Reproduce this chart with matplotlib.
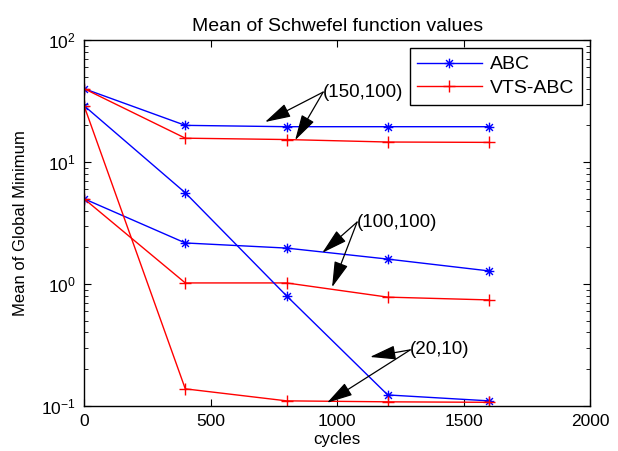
import matplotlib.pyplot as plt
from matplotlib.path import Path
from matplotlib.ticker import LogLocator, NullFormatter

plt.rcParams['font.family'] = ['Liberation Sans', 'DejaVu Sans']

cycles = [0, 400, 800, 1200, 1600]

# (150,100)
abc_150 = [40, 20, 19.5, 19.5, 19.5]
vts_150 = [40, 15.7, 15.3, 14.6, 14.5]
# (100,100)
abc_100 = [5.0, 2.17, 1.97, 1.6, 1.28]
vts_100 = [5.0, 1.02, 1.02, 0.78, 0.74]
# (20,10)
abc_20 = [29, 5.6, 0.8, 0.123, 0.11]
vts_20 = [29, 0.138, 0.11, 0.108, 0.107]

# matlab style asterisk: + and x together
d = 0.7071
asterisk = Path([(0, -1), (0, 1), (-1, 0), (1, 0), (-d, -d), (d, d), (-d, d), (d, -d)],
                [Path.MOVETO, Path.LINETO] * 4)

fig = plt.figure(figsize=(6.18, 4.51), dpi=100)
ax = fig.add_axes([0.136, 0.1, 0.819, 0.811])

blue = dict(color='blue', marker=asterisk, markersize=7, linewidth=1, markeredgewidth=1)
red = dict(color='red', marker='+', markersize=8, linewidth=1, markeredgewidth=1)
ax.semilogy(cycles, abc_150, label='ABC', **blue)
ax.semilogy(cycles, vts_150, label='VTS-ABC', **red)
ax.semilogy(cycles, abc_100, **blue)
ax.semilogy(cycles, vts_100, **red)
ax.semilogy(cycles, abc_20, **blue)
ax.semilogy(cycles, vts_20, **red)

ax.set_xlim(0, 2000)
ax.set_ylim(0.1, 100)
ax.set_xticks([0, 500, 1000, 1500, 2000])
ax.yaxis.set_minor_locator(LogLocator(base=10, subs=range(2, 10)))
ax.yaxis.set_minor_formatter(NullFormatter())
ax.tick_params(which='both', direction='in', top=True, right=True, labelsize=12.5)
ax.tick_params(which='major', length=5, pad=6)
ax.tick_params(which='minor', length=3)
for s in ax.spines.values():
    s.set_linewidth(1)

ax.set_title('Mean of Schwefel function values', fontsize=14, pad=6.5)
ax.set_xlabel('cycles', fontsize=12.2, labelpad=2)
ax.set_ylabel('Mean of Global Minimum', fontsize=12, labelpad=9)

leg = ax.legend(loc='upper right', fontsize=14, fancybox=False, edgecolor='black',
                framealpha=1, handlelength=3.3, handletextpad=0.45,
                borderaxespad=0.4, labelspacing=0.3)
leg.get_frame().set_linewidth(1)

arrow = dict(arrowstyle='-|>,head_length=0.8,head_width=0.22', color='black',
             lw=0.9, mutation_scale=20, shrinkA=0, shrinkB=0)

labels = ['(150,100)', '(100,100)', '(20,10)']
label_x = [945, 1079, 1289]
label_y = [37.5, 3.22, 0.288]
tips_x = [[715, 834], [941, 980], [1130, 960]]
tips_y = [[21.3, 15.1], [1.8, 0.94], [0.252, 0.106]]

for lab, lx, ly, tx, ty in zip(labels, label_x, label_y, tips_x, tips_y):
    ax.text(lx, ly, lab, fontsize=13.5, ha='left', va='center')
    for x, y in zip(tx, ty):
        ax.annotate('', xy=(x, y), xytext=(lx, ly), arrowprops=arrow)

fig.savefig('out.png', dpi=100)
